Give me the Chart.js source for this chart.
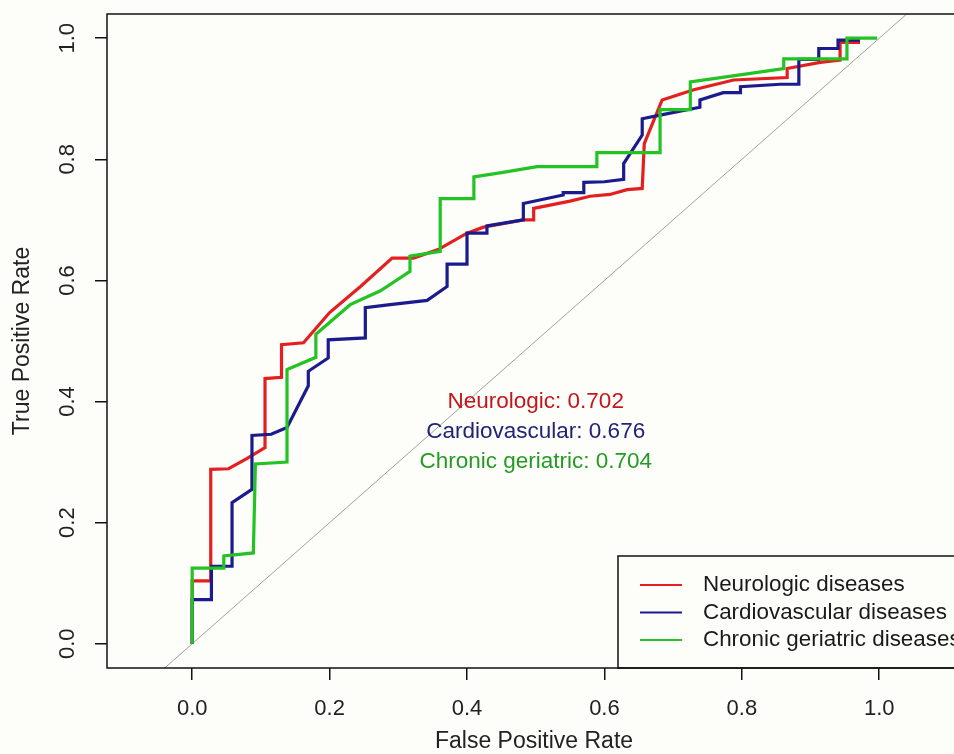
<!DOCTYPE html>
<html>
<head>
<meta charset="utf-8">
<script src="https://cdn.jsdelivr.net/npm/chart.js@4.4.0/dist/chart.umd.min.js"></script>
<style>
html, body { margin: 0; padding: 0; overflow: hidden; background: #fdfdf9; }
#wrap { width: 961px; height: 754px; }
</style>
</head>
<body>
<div id="wrap"><canvas id="roc" width="961" height="754"></canvas></div>
<script>
// ROC curves
const neuroFpr = [0, 0, 0.027, 0.027, 0.053, 0.08, 0.106, 0.106, 0.13, 0.13, 0.162, 0.2, 0.245, 0.291, 0.322, 0.358, 0.4, 0.424, 0.482, 0.497, 0.497, 0.55, 0.579, 0.608, 0.633, 0.655, 0.658, 0.684, 0.73, 0.788, 0.866, 0.866, 0.914, 0.943, 0.943, 0.972];
const neuroTpr = [0, 0.104, 0.104, 0.288, 0.289, 0.306, 0.324, 0.438, 0.44, 0.494, 0.497, 0.547, 0.59, 0.637, 0.637, 0.651, 0.678, 0.688, 0.70, 0.70, 0.719, 0.731, 0.739, 0.742, 0.75, 0.752, 0.826, 0.898, 0.915, 0.931, 0.935, 0.95, 0.96, 0.964, 0.993, 0.993];

const cardioFpr = [0, 0, 0.028, 0.028, 0.058, 0.058, 0.087, 0.087, 0.115, 0.138, 0.169, 0.169, 0.198, 0.198, 0.252, 0.252, 0.288, 0.342, 0.371, 0.371, 0.40, 0.40, 0.429, 0.429, 0.482, 0.482, 0.54, 0.54, 0.57, 0.57, 0.6, 0.628, 0.628, 0.655, 0.655, 0.681, 0.739, 0.739, 0.773, 0.798, 0.798, 0.856, 0.883, 0.883, 0.912, 0.912, 0.94, 0.94, 0.972];
const cardioTpr = [0, 0.073, 0.073, 0.128, 0.128, 0.233, 0.255, 0.344, 0.346, 0.357, 0.426, 0.45, 0.472, 0.502, 0.505, 0.555, 0.56, 0.567, 0.59, 0.627, 0.627, 0.678, 0.678, 0.69, 0.70, 0.727, 0.741, 0.745, 0.745, 0.762, 0.763, 0.767, 0.793, 0.84, 0.867, 0.873, 0.886, 0.898, 0.91, 0.91, 0.92, 0.924, 0.924, 0.965, 0.965, 0.983, 0.983, 0.997, 0.997];

const chronicFpr = [0, 0, 0.046, 0.046, 0.089, 0.092, 0.138, 0.138, 0.18, 0.18, 0.23, 0.274, 0.317, 0.317, 0.361, 0.361, 0.41, 0.41, 0.45, 0.502, 0.589, 0.589, 0.681, 0.681, 0.725, 0.725, 0.8, 0.861, 0.861, 0.953, 0.953, 0.997];
const chronicTpr = [0, 0.125, 0.125, 0.145, 0.15, 0.297, 0.30, 0.453, 0.473, 0.511, 0.56, 0.583, 0.615, 0.64, 0.648, 0.735, 0.735, 0.771, 0.778, 0.788, 0.788, 0.811, 0.811, 0.882, 0.882, 0.928, 0.94, 0.95, 0.966, 0.966, 1.0, 1.0];

const refLine = [-0.1, 1.1];

const xTicks = [0, 0.2, 0.4, 0.6, 0.8, 1.0];
const yTicks = [0, 0.2, 0.4, 0.6, 0.8, 1.0];

const legendLabels = ['Neurologic diseases', 'Cardiovascular diseases', 'Chronic geriatric diseases'];
const aucNames = ['Neurologic', 'Cardiovascular', 'Chronic geriatric'];
const aucValues = [0.702, 0.676, 0.704];

const lineColors = ['#e3201f', '#1b1b8e', '#22c322'];
const textColors = ['#c4161c', '#22227a', '#259b25'];
const FONT = '"Liberation Sans", Arial, sans-serif';
const BG = '#fdfdf9';

function pontos(xs, ys) {
    return xs.map((v, i) => ({ x: v, y: ys[i] }));
}

// frame, rotated y labels, AUC text and legend box (R style)
const extrasR = {
    id: 'extrasR',
    afterDraw(chart) {
        const { ctx, chartArea: a, scales: { x, y } } = chart;
        ctx.save();

        ctx.font = '22px ' + FONT;
        ctx.fillStyle = '#222';
        ctx.textAlign = 'center';
        ctx.textBaseline = 'middle';
        yTicks.forEach(v => {
            ctx.save();
            ctx.translate(68, y.getPixelForValue(v));
            ctx.rotate(-Math.PI / 2);
            ctx.fillText(v.toFixed(1), 0, 0);
            ctx.restore();
        });

        ctx.font = '22.5px ' + FONT;
        const aucY = [0.4, 0.35, 0.3];
        aucNames.forEach((n, i) => {
            ctx.fillStyle = textColors[i];
            ctx.fillText(n + ': ' + aucValues[i].toFixed(3), x.getPixelForValue(0.5), y.getPixelForValue(aucY[i]));
        });

        // legend
        const lx = 618, ly = 556;
        ctx.fillStyle = BG;
        ctx.fillRect(lx, ly, a.right - lx, a.bottom - ly);
        ctx.strokeStyle = '#111';
        ctx.lineWidth = 1.5;
        ctx.strokeRect(lx, ly, a.right - lx, a.bottom - ly);
        ctx.font = '22.4px ' + FONT;
        ctx.textAlign = 'left';
        legendLabels.forEach((t, i) => {
            const yy = 585 + i * 27.5;
            ctx.strokeStyle = lineColors[i];
            ctx.lineWidth = 2;
            ctx.beginPath();
            ctx.moveTo(640, yy);
            ctx.lineTo(682, yy);
            ctx.stroke();
            ctx.fillStyle = '#1a1a1a';
            ctx.fillText(t, 703, yy);
        });

        ctx.strokeStyle = '#111';
        ctx.lineWidth = 1.5;
        ctx.strokeRect(a.left, a.top, a.right - a.left, a.bottom - a.top);
        ctx.restore();
    }
};

function serie(label, xs, ys, cor, ordem) {
    return {
        label: label,
        data: pontos(xs, ys),
        showLine: true,
        borderColor: cor,
        backgroundColor: cor,
        borderWidth: 3.2,
        pointRadius: 0,
        tension: 0,
        order: ordem
    };
}

const eixoGrid = { drawOnChartArea: false, drawTicks: true, tickLength: 12, color: '#111', tickColor: '#111', lineWidth: 1.5 };

new Chart(document.getElementById('roc'), {
    type: 'scatter',
    data: {
        datasets: [
            serie(legendLabels[0], neuroFpr, neuroTpr, lineColors[0], 3),
            serie(legendLabels[1], cardioFpr, cardioTpr, lineColors[1], 2),
            serie(legendLabels[2], chronicFpr, chronicTpr, lineColors[2], 1),
            {
                label: 'ref',
                data: pontos(refLine, refLine),
                showLine: true,
                borderColor: '#a0a0a0',
                borderWidth: 1,
                pointRadius: 0,
                order: 4
            }
        ]
    },
    options: {
        responsive: false,
        animation: false,
        devicePixelRatio: 1,
        layout: { padding: { top: 14, left: 0, right: 0, bottom: 0 } },
        plugins: { legend: { display: false }, tooltip: { enabled: false } },
        scales: {
            x: {
                type: 'linear',
                min: -0.124,
                max: 1.119,
                afterBuildTicks: s => { s.ticks = xTicks.map(v => ({ value: v })); },
                afterFit: s => { s.height = 86; },
                grid: eixoGrid,
                border: { display: false },
                ticks: {
                    color: '#222',
                    font: { size: 22, family: FONT },
                    padding: 16,
                    maxRotation: 0,
                    callback: v => Number(v).toFixed(1)
                },
                title: {
                    display: true,
                    text: 'False Positive Rate',
                    color: '#222',
                    font: { size: 23, family: FONT, lineHeight: 1 },
                    padding: { top: 0, bottom: 1 }
                }
            },
            y: {
                type: 'linear',
                min: -0.04,
                max: 1.04,
                afterBuildTicks: s => { s.ticks = yTicks.map(v => ({ value: v })); },
                afterFit: s => { s.width = 107; },
                grid: eixoGrid,
                border: { display: false },
                ticks: { display: false },
                title: {
                    display: true,
                    text: 'True Positive Rate',
                    color: '#222',
                    font: { size: 23, family: FONT, lineHeight: 1 },
                    padding: { top: 11.5, bottom: 0 }
                }
            }
        }
    },
    plugins: [extrasR]
});
</script>
</body>
</html>
